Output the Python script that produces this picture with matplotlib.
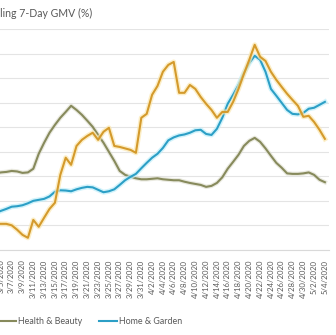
import numpy as np
import pandas as pd
import matplotlib
matplotlib.use("Agg")
import matplotlib.pyplot as plt
import matplotlib.patheffects as pe

plt.rcParams['font.family'] = ['Lato', 'DejaVu Sans']

# daily dates, 3/4/2020 .. 5/4/2020
dates = pd.date_range('2020-03-04', '2020-05-04', freq='D')

# share of rolling 7-day GMV (axis labels are cropped off in the source)
other = [1.06, 1.06, 1.06, 1.00, 0.82, 0.61, 0.49, 1.22, 0.94, 1.31,
         1.67, 1.92, 3.06, 3.76, 3.47, 4.24, 4.49, 4.65, 4.78, 4.49,
         4.82, 4.98, 4.24, 4.20, 4.14, 4.08, 3.96, 5.39, 5.55, 6.33,
         6.69, 7.27, 7.55, 7.67, 6.41, 6.41, 6.73, 6.57, 6.24, 5.96,
         5.71, 5.39, 5.63, 5.63, 6.04, 6.57, 7.18, 7.76, 8.37, 7.88,
         7.71, 7.27, 6.94, 6.65, 6.37, 6.12, 5.88, 5.43, 5.47, 5.22,
         4.90, 4.53]
home_garden = [1.51, 1.59, 1.67, 1.76, 1.78, 1.82, 1.90, 2.00, 2.04, 2.08,
               2.18, 2.37, 2.43, 2.42, 2.39, 2.47, 2.53, 2.57, 2.55, 2.45,
               2.35, 2.39, 2.47, 2.65, 2.84, 2.98, 3.10, 3.33, 3.55, 3.76,
               3.92, 4.16, 4.47, 4.59, 4.67, 4.71, 4.78, 4.88, 4.90, 4.73,
               4.69, 4.94, 5.39, 5.96, 6.33, 6.73, 7.22, 7.63, 7.92, 7.76,
               7.27, 6.57, 6.29, 6.00, 5.71, 5.55, 5.53, 5.59, 5.76, 5.80,
               5.92, 6.04]
health_beauty = [3.12, 3.16, 3.18, 3.22, 3.20, 3.14, 3.16, 3.31, 3.92, 4.37,
                 4.78, 5.10, 5.39, 5.63, 5.88, 5.71, 5.51, 5.27, 5.02, 4.69,
                 4.37, 4.00, 3.63, 3.22, 3.06, 2.98, 2.92, 2.88, 2.88, 2.90,
                 2.92, 2.88, 2.86, 2.84, 2.84, 2.78, 2.73, 2.69, 2.65, 2.57,
                 2.61, 2.73, 2.96, 3.31, 3.59, 3.88, 4.24, 4.45, 4.57, 4.41,
                 4.14, 3.84, 3.55, 3.35, 3.12, 3.10, 3.10, 3.12, 3.16, 3.06,
                 2.86, 2.76]

c_hb = '#878a5c'
c_hg = '#2c9fc6'
c_ot = '#d49a2c'
txt = '#595959'

fig = plt.figure(figsize=(3.36, 3.35), dpi=100)
ax = fig.add_axes([0.0, 0.2543, 329 / 336, 0.658])

x = np.arange(len(dates))
glow_hb = [pe.Stroke(linewidth=3.2, foreground='#dcdccc', alpha=0.6), pe.Normal()]
glow_hg = [pe.Stroke(linewidth=3.6, foreground='#bfeefa', alpha=0.7), pe.Normal()]
glow_ot = [pe.Stroke(linewidth=3.6, foreground='#fbe7ae', alpha=0.7), pe.Normal()]

ax.plot(x, health_beauty, color=c_hb, lw=1.5, label='Health & Beauty', path_effects=glow_hb)
ax.plot(x, home_garden, color=c_hg, lw=1.5, label='Home & Garden', path_effects=glow_hg)
ax.plot(x, other, color=c_ot, lw=1.5, path_effects=glow_ot)

ax.set_ylim(0, 9)
ax.set_yticks(np.arange(0, 10))
ax.yaxis.grid(True, color='#e4e4e4', lw=0.8)
ax.tick_params(axis='y', left=False, labelleft=False)

# first visible day sits at the very left edge
ax.set_xlim(0.83, 61.76)
tick_pos = x[1::2]
ax.set_xticks(tick_pos)
ax.set_xticklabels([f'{d.month}/{d.day}/{d.year}' for d in dates[1::2]],
                   rotation=90, fontsize=5.6, color=txt)
ax.tick_params(axis='x', length=0, pad=7)

for s in ['top', 'left', 'right']:
    ax.spines[s].set_visible(False)
ax.spines['bottom'].set_color('#d9d9d9')
ax.spines['bottom'].set_linewidth(0.8)
ax.set_axisbelow(True)

fig.text(92 / 336, 1 - 13 / 335, 'Rolling 7-Day GMV (%)', ha='right', va='center',
         fontsize=7.6, color=txt)

leg = fig.legend(loc='center left', bbox_to_anchor=(-2 / 336, 1 - 322 / 335), ncol=2,
                 frameon=False, fontsize=6.4, handlelength=2.0, handletextpad=0.25,
                 columnspacing=1.9, borderpad=0, borderaxespad=0)
for t in leg.get_texts():
    t.set_color(txt)
for h in leg.get_lines():
    h.set_linewidth(1.5)
    h.set_path_effects([])

fig.savefig('out.png', dpi=100)
